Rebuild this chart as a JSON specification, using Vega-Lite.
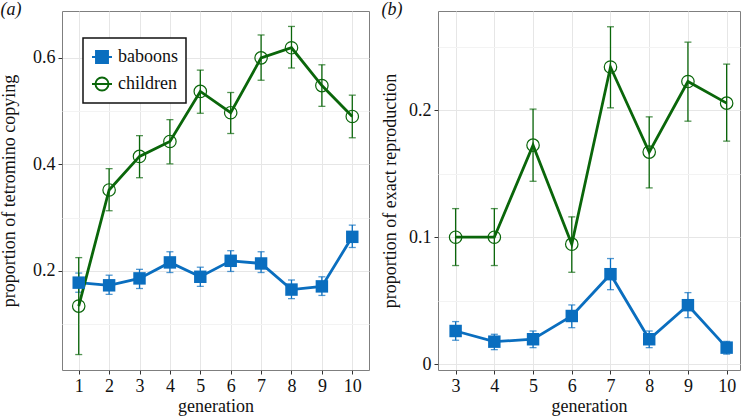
{
  "$schema": "https://vega.github.io/schema/vega-lite/v6.json",
  "background": "white",
  "padding": {"left": 0, "top": 0, "right": 0, "bottom": 0},
  "spacing": 11,
  "datasets": {
    "a": [
      {"gen": 1, "species": "baboons", "value": 0.178, "lo": 0.160, "hi": 0.196},
      {"gen": 2, "species": "baboons", "value": 0.173, "lo": 0.156, "hi": 0.192},
      {"gen": 3, "species": "baboons", "value": 0.186, "lo": 0.167, "hi": 0.203},
      {"gen": 4, "species": "baboons", "value": 0.216, "lo": 0.197, "hi": 0.236},
      {"gen": 5, "species": "baboons", "value": 0.189, "lo": 0.171, "hi": 0.207},
      {"gen": 6, "species": "baboons", "value": 0.219, "lo": 0.199, "hi": 0.238},
      {"gen": 7, "species": "baboons", "value": 0.214, "lo": 0.197, "hi": 0.236},
      {"gen": 8, "species": "baboons", "value": 0.165, "lo": 0.148, "hi": 0.183},
      {"gen": 9, "species": "baboons", "value": 0.171, "lo": 0.154, "hi": 0.189},
      {"gen": 10, "species": "baboons", "value": 0.264, "lo": 0.244, "hi": 0.286},
      {"gen": 1, "species": "children", "value": 0.134, "lo": 0.043, "hi": 0.225},
      {"gen": 2, "species": "children", "value": 0.352, "lo": 0.313, "hi": 0.392},
      {"gen": 3, "species": "children", "value": 0.415, "lo": 0.375, "hi": 0.454},
      {"gen": 4, "species": "children", "value": 0.443, "lo": 0.401, "hi": 0.484},
      {"gen": 5, "species": "children", "value": 0.537, "lo": 0.496, "hi": 0.577},
      {"gen": 6, "species": "children", "value": 0.497, "lo": 0.458, "hi": 0.535},
      {"gen": 7, "species": "children", "value": 0.600, "lo": 0.558, "hi": 0.643},
      {"gen": 8, "species": "children", "value": 0.619, "lo": 0.581, "hi": 0.659},
      {"gen": 9, "species": "children", "value": 0.548, "lo": 0.509, "hi": 0.587},
      {"gen": 10, "species": "children", "value": 0.490, "lo": 0.450, "hi": 0.530}
    ],
    "b": [
      {"gen": 3, "species": "baboons", "value": 0.0262, "lo": 0.0189, "hi": 0.0336},
      {"gen": 4, "species": "baboons", "value": 0.0178, "lo": 0.0115, "hi": 0.0236},
      {"gen": 5, "species": "baboons", "value": 0.0197, "lo": 0.0131, "hi": 0.0262},
      {"gen": 6, "species": "baboons", "value": 0.0380, "lo": 0.0288, "hi": 0.0467},
      {"gen": 7, "species": "baboons", "value": 0.0709, "lo": 0.0587, "hi": 0.0832},
      {"gen": 8, "species": "baboons", "value": 0.0197, "lo": 0.0131, "hi": 0.0262},
      {"gen": 9, "species": "baboons", "value": 0.0465, "lo": 0.0367, "hi": 0.0564},
      {"gen": 10, "species": "baboons", "value": 0.0131, "lo": 0.0080, "hi": 0.0180},
      {"gen": 3, "species": "children", "value": 0.1000, "lo": 0.0777, "hi": 0.1225},
      {"gen": 4, "species": "children", "value": 0.1000, "lo": 0.0777, "hi": 0.1225},
      {"gen": 5, "species": "children", "value": 0.1724, "lo": 0.1440, "hi": 0.2008},
      {"gen": 6, "species": "children", "value": 0.0945, "lo": 0.0724, "hi": 0.1160},
      {"gen": 7, "species": "children", "value": 0.2339, "lo": 0.2018, "hi": 0.2656},
      {"gen": 8, "species": "children", "value": 0.1670, "lo": 0.1388, "hi": 0.1947},
      {"gen": 9, "species": "children", "value": 0.2225, "lo": 0.1913, "hi": 0.2535},
      {"gen": 10, "species": "children", "value": 0.2055, "lo": 0.1756, "hi": 0.2362}
    ]
  },
  "resolve": {"scale": {"color": "independent"}},
  "hconcat": [
    {
      "width": 307,
      "height": 359,
      "title": {"text": "(a)", "anchor": "start", "frame": "bounds", "offset": -8},
      "data": {"name": "a"},
      "encoding": {
        "x": {
          "field": "gen", "type": "quantitative",
          "scale": {"domain": [0.45, 10.55], "nice": false, "zero": false},
          "axis": {"values": [1, 2, 3, 4, 5, 6, 7, 8, 9, 10], "format": "d", "title": "generation"}
        }
      },
      "layer": [
        {
          "transform": [{"filter": "datum.species == 'baboons'"}],
          "mark": {"type": "errorbar", "ticks": true, "size": 7, "thickness": 1.3, "color": "#0a6ebf"},
          "encoding": {
            "y": {
              "field": "lo", "type": "quantitative", "title": "proportion of tetromino copying",
              "scale": {"domain": [0.014, 0.688], "nice": false, "zero": false},
              "axis": {
                "titlePadding": 14,
                "values": [0.1, 0.2, 0.3, 0.4, 0.5, 0.6],
                "labelExpr": "round(datum.value*10)%2==0 ? format(datum.value, '.1f') : ''",
                "gridColor": {"condition": {"test": "round(datum.value*10)%2==0", "value": "#e6e6e6"}, "value": "#f3f3f3"},
                "tickOpacity": {"condition": {"test": "round(datum.value*10)%2==0", "value": 1}, "value": 0}
              }
            },
            "y2": {"field": "hi"}
          }
        },
        {
          "transform": [{"filter": "datum.species == 'children'"}],
          "mark": {"type": "errorbar", "ticks": true, "size": 7, "thickness": 1.3, "color": "#0a660a"},
          "encoding": {
            "y": {"field": "lo", "type": "quantitative", "title": "proportion of tetromino copying"},
            "y2": {"field": "hi"}
          }
        },
        {
          "mark": {"type": "line", "strokeWidth": 2.8},
          "encoding": {
            "y": {"field": "value", "type": "quantitative", "title": "proportion of tetromino copying"},
            "color": {
              "field": "species", "type": "nominal",
              "scale": {"domain": ["baboons", "children"], "range": ["#0a6ebf", "#0a660a"]},
              "legend": {
                "orient": "none", "legendX": 21, "legendY": 27, "title": null,
                "encode": {
                  "symbols": {"update": {
                    "shape": {"signal": "datum.value == 'baboons' ? 'M-1,0L1,0M-0.6,-0.6L0.6,-0.6L0.6,0.6L-0.6,0.6Z' : 'M-1,0L1,0M0.65,0A0.65,0.65,0,1,1,-0.65,0A0.65,0.65,0,1,1,0.65,0Z'"},
                    "fill": {"signal": "datum.value == 'baboons' ? '#0a6ebf' : 'transparent'"},
                    "stroke": {"signal": "datum.value == 'baboons' ? '#0a6ebf' : '#0a660a'"},
                    "strokeWidth": {"value": 1.9}
                  }},
                  "legend": {"update": {"strokeWidth": {"value": 1.5}}}
                }
              }
            }
          }
        },
        {
          "transform": [{"filter": "datum.species == 'baboons'"}],
          "mark": {"type": "point", "shape": "square", "filled": true, "color": "#0a6ebf", "size": 155, "opacity": 1},
          "encoding": {
            "y": {"field": "value", "type": "quantitative", "title": "proportion of tetromino copying"}
          }
        },
        {
          "transform": [{"filter": "datum.species == 'children'"}],
          "mark": {"type": "point", "shape": "circle", "filled": false, "color": "#0a660a", "size": 155, "strokeWidth": 1.2, "opacity": 1},
          "encoding": {
            "y": {"field": "value", "type": "quantitative", "title": "proportion of tetromino copying"}
          }
        }
      ]
    },
    {
      "width": 302,
      "height": 359,
      "title": {"text": "(b)", "anchor": "start", "frame": "bounds", "offset": -8},
      "data": {"name": "b"},
      "encoding": {
        "x": {
          "field": "gen", "type": "quantitative",
          "scale": {"domain": [2.545, 10.345], "nice": false, "zero": false},
          "axis": {"values": [3, 4, 5, 6, 7, 8, 9, 10], "format": "d", "title": "generation"}
        }
      },
      "layer": [
        {
          "transform": [{"filter": "datum.species == 'baboons'"}],
          "mark": {"type": "errorbar", "ticks": true, "size": 7, "thickness": 1.3, "color": "#0a6ebf"},
          "encoding": {
            "y": {
              "field": "lo", "type": "quantitative", "title": "proportion of exact reproduction",
              "scale": {"domain": [-0.0045, 0.278], "nice": false, "zero": false},
              "axis": {
                "values": [0, 0.05, 0.1, 0.15, 0.2, 0.25],
                "labelExpr": "round(datum.value*20)%2==0 ? (datum.value == 0 ? '0' : format(datum.value, '.1f')) : ''",
                "gridColor": {"condition": {"test": "round(datum.value*20)%2==0", "value": "#e6e6e6"}, "value": "#f3f3f3"},
                "tickOpacity": {"condition": {"test": "round(datum.value*20)%2==0", "value": 1}, "value": 0}
              }
            },
            "y2": {"field": "hi"}
          }
        },
        {
          "transform": [{"filter": "datum.species == 'children'"}],
          "mark": {"type": "errorbar", "ticks": true, "size": 7, "thickness": 1.3, "color": "#0a660a"},
          "encoding": {
            "y": {"field": "lo", "type": "quantitative", "title": "proportion of exact reproduction"},
            "y2": {"field": "hi"}
          }
        },
        {
          "mark": {"type": "line", "strokeWidth": 2.8},
          "encoding": {
            "y": {"field": "value", "type": "quantitative", "title": "proportion of exact reproduction"},
            "color": {
              "field": "species", "type": "nominal",
              "scale": {"domain": ["baboons", "children"], "range": ["#0a6ebf", "#0a660a"]},
              "legend": null
            }
          }
        },
        {
          "transform": [{"filter": "datum.species == 'baboons'"}],
          "mark": {"type": "point", "shape": "square", "filled": true, "color": "#0a6ebf", "size": 155, "opacity": 1},
          "encoding": {
            "y": {"field": "value", "type": "quantitative", "title": "proportion of exact reproduction"}
          }
        },
        {
          "transform": [{"filter": "datum.species == 'children'"}],
          "mark": {"type": "point", "shape": "circle", "filled": false, "color": "#0a660a", "size": 155, "strokeWidth": 1.2, "opacity": 1},
          "encoding": {
            "y": {"field": "value", "type": "quantitative", "title": "proportion of exact reproduction"}
          }
        }
      ]
    }
  ],
  "config": {
    "font": "Liberation Serif",
    "view": {"stroke": "#7f7f7f", "strokeWidth": 1},
    "axis": {
      "domain": false,
      "grid": true,
      "gridColor": "#e6e6e6",
      "gridWidth": 1,
      "tickColor": "#333333",
      "tickSize": 4,
      "labelFont": "Liberation Serif",
      "labelFontSize": 18,
      "labelColor": "#111111",
      "labelPadding": 3,
      "titleFont": "Liberation Serif",
      "titleFontSize": 18,
      "titleFontWeight": "normal",
      "titleColor": "#111111"
    },
    "axisY": {"titlePadding": 9},
    "axisX": {"titlePadding": 2},
    "legend": {
      "labelFont": "Liberation Serif",
      "labelFontSize": 18,
      "labelColor": "#111111",
      "symbolSize": 400,
      "symbolStrokeWidth": 1.9,
      "strokeColor": "#111111",
      "fillColor": "white",
      "padding": 8,
      "rowPadding": 6,
      "labelOffset": 5,
      "cornerRadius": 0
    },
    "title": {
      "font": "Liberation Serif",
      "fontSize": 18,
      "fontStyle": "italic",
      "fontWeight": "normal",
      "color": "#111111"
    }
  }
}
